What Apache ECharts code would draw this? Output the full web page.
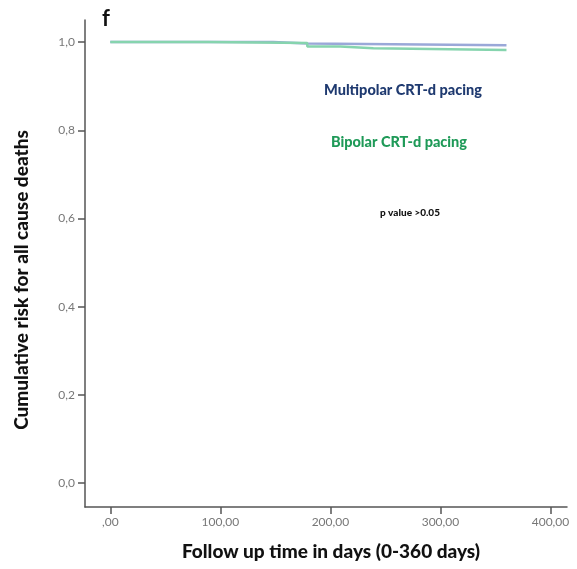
<!DOCTYPE html>
<html><head><meta charset="utf-8">
<script src="https://cdn.jsdelivr.net/npm/echarts@6/dist/echarts.min.js"></script>
<style>html,body{margin:0;padding:0;background:#fff}#c{width:577px;height:569px}</style>
</head><body><div id="c"></div>
<script>
const multipolarDays = [0, 148, 179, 360];
const multipolarValues = [1.0, 0.997, 0.993, 0.993];
const bipolarDays = [0, 89, 179, 209, 239, 360];
const bipolarValues = [1.0, 0.998, 0.990, 0.986, 0.982, 0.982];
const xTicks = [0, 100, 200, 300, 400];
const yTicks = [0, 0.2, 0.4, 0.6, 0.8, 1.0];
const seriesNames = ['Multipolar CRT-d pacing', 'Bipolar CRT-d pacing'];
const pValueText = 'p value >0.05';
const panelLetter = 'f';
const xTitle = 'Follow up time in days (0-360 days)';
const yTitle = 'Cumulative risk for all cause deaths';

const zip = (a, b) => a.map((v, i) => [v, b[i]]);
const fmtX = v => v === 0 ? ',00' : v.toFixed(2).replace('.', ',');
const fmtY = v => v.toFixed(1).replace('.', ',');
const FONT = 'Lato';
const chart = echarts.init(document.getElementById('c'), null, {renderer: 'canvas'});
chart.setOption({
  animation: false,
  backgroundColor: '#fff',
  grid: {left: 85, right: 10, top: 20, bottom: 62},
  xAxis: {
    type: 'value', min: -23, max: 415,
    axisLine: {show: true, onZero: false, lineStyle: {color: '#555', width: 1.5}},
    axisTick: {show: true, customValues: xTicks, length: 7, inside: false, lineStyle: {color: '#555', width: 1.5}},
    axisLabel: {customValues: xTicks, formatter: fmtX, color: '#777', fontFamily: FONT, fontSize: 12, margin: 9},
    splitLine: {show: false}
  },
  yAxis: {
    type: 'value', min: -0.054, max: 1.05,
    axisLine: {show: true, onZero: false, lineStyle: {color: '#555', width: 1.5}},
    axisTick: {show: true, customValues: yTicks, length: 7, lineStyle: {color: '#555', width: 1.5}},
    axisLabel: {customValues: yTicks, formatter: fmtY, color: '#777', fontFamily: FONT, fontSize: 12, margin: 10},
    splitLine: {show: false}
  },
  series: [
    {name: seriesNames[0], type: 'line', step: 'end', showSymbol: false,
     data: zip(multipolarDays, multipolarValues),
     lineStyle: {color: '#9aa8d8', width: 2.5}},
    {name: seriesNames[1], type: 'line', step: 'end', showSymbol: false,
     data: zip(bipolarDays, bipolarValues),
     lineStyle: {color: '#86d4ae', width: 2.5}}
  ],
  graphic: [
    {type: 'text', left: 102, top: 8, style: {text: panelLetter, font: 'bold 22px ' + FONT, fill: '#111'}},
    {type: 'text', x: 331, y: 552, style: {text: xTitle, font: '900 19px ' + FONT, fill: '#111', textAlign: 'center', textVerticalAlign: 'middle'}},
    {type: 'text', x: 22, y: 280, rotation: Math.PI / 2, style: {text: yTitle, font: '900 19px ' + FONT, fill: '#111', textAlign: 'center', textVerticalAlign: 'middle'}},
    {type: 'text', x: 403, y: 90, style: {text: seriesNames[0], font: '900 14.5px ' + FONT, fill: '#1f3a70', textAlign: 'center', textVerticalAlign: 'middle'}},
    {type: 'text', x: 399, y: 142, style: {text: seriesNames[1], font: '900 14.5px ' + FONT, fill: '#1f9a58', textAlign: 'center', textVerticalAlign: 'middle'}},
    {type: 'text', x: 410, y: 213, style: {text: pValueText, font: '900 10px ' + FONT, fill: '#111', textAlign: 'center', textVerticalAlign: 'middle'}}
  ]
});
</script></body></html>
